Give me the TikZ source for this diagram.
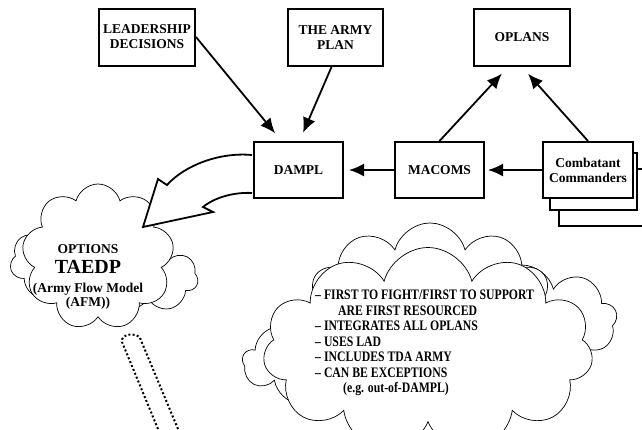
\documentclass[tikz,border=0pt]{standalone}
\usepackage{fontspec}
\setmainfont{Liberation Serif}
\newfontfamily\narrowserif[FakeStretch=0.81]{Liberation Serif}
\usetikzlibrary{arrows.meta,positioning,shapes.symbols}
\tikzset{
  planbox/.style={
    draw=black,
    fill=white,
    line width=2pt,
    minimum width=96pt,
    minimum height=57pt,
    align=center,
    inner sep=2pt,
    font=\bfseries\fontsize{13.5}{15}\selectfont
  },
  cloudy/.style={
    cloud,
    cloud puffs=9,
    cloud ignores aspect,
    draw=black,
    fill=white,
    line width=0.7pt
  },
  arrow/.style={
    -{Latex[length=15pt,width=13pt]},
    line width=1.8pt,
    draw=black
  },
  dotpole/.style={
    line width=2pt,
    dash pattern=on 2pt off 2.2pt
  }
}

\begin{document}
\begin{tikzpicture}[x=1pt,y=-1pt]
\useasboundingbox (0,0) rectangle (642,429);
% big cloud, back to front
\node[cloudy, minimum width=190pt, minimum height=110pt] (cloudR) at (522,320) {};
\node[cloudy, minimum width=175pt, minimum height=90pt] (cloudL) at (330,362) {};
\node[cloudy, cloud puffs=10, minimum width=240pt, minimum height=150pt] (cloudT) at (430,298) {};
\node[cloudy, cloud puffs=11, minimum width=330pt, minimum height=205pt] (cloudF) at (428,350) {};
\node[anchor=north west, inner sep=0pt, align=left,
  font=\narrowserif\bfseries\fontsize{14.5}{15.5}\selectfont] (dampltext) at (315,290)
  {–~FIRST TO FIGHT/FIRST TO SUPPORT\\
   \hspace*{23pt}ARE FIRST RESOURCED\\
   –~INTEGRATES ALL OPLANS\\
   –~USES LAD\\
   –~INCLUDES TDA ARMY\\
   –~CAN BE EXCEPTIONS\\
   \hspace*{28pt}(e.g. out-of-DAMPL)};
% options cloud
\node[cloudy, cloud puffs=7, minimum width=100pt, minimum height=78pt] (optL) at (60,262) {};
\node[cloudy, cloud puffs=7, minimum width=100pt, minimum height=68pt] (optR) at (148,278) {};
\node[cloudy, minimum width=152pt, minimum height=146pt] (optF) at (98,257) {};
\node[align=center, font=\bfseries\fontsize{13.5}{15}\selectfont] (opttext) at (88,277)
  {OPTIONS\\[5pt]{\fontsize{20}{20}\selectfont TAEDP}\\[4pt](Army Flow Model\\[-1pt](AFM))};
\draw[dotpole] (158,429) -- (122,342) .. controls (120,334) and (136,332) .. (140,338) -- (178,429);

% boxes
\node[planbox] (lead) at (147,37) {LEADERSHIP\\DECISIONS};
\node[planbox, minimum width=95pt] (army) at (335.5,37.5) {THE ARMY\\PLAN};
\node[planbox] (oplans) at (522,37.5) {OPLANS};
\node[planbox, minimum width=89pt, minimum height=56pt] (dampl) at (298.5,170) {DAMPL};
\node[planbox, minimum width=89pt, minimum height=56pt, right=50pt of dampl] (macoms) {MACOMS};
\node[planbox, minimum width=90pt] (comb3) at (604,197.5) {};
\node[planbox, minimum width=87pt] (comb2) at (593.5,181.5) {};
\node[planbox, minimum width=90pt, minimum height=56pt, right=57pt of macoms] (comb) {Combatant\\Commanders};

\draw[arrow, shorten >=10pt] (lead.east) -- ([xshift=-17pt]dampl.north);
\draw[arrow, shorten >=9pt] ([xshift=-4pt]army.south) -- ([xshift=1pt]dampl.north);
\draw[arrow, shorten >=9pt] (macoms.north) -- ([xshift=-14pt]oplans.south);
\draw[arrow, shorten >=9pt] (comb.north) -- (oplans.south);
\draw[arrow, shorten >=5pt] (macoms.west) -- (dampl.east);
\draw[arrow, shorten >=3pt] (comb.west) -- (macoms.east);

% wide arrow into the options cloud
\filldraw[line width=1.8pt, fill=white, line join=miter]
  ([xshift=-1pt,yshift=15pt]dampl.west) .. controls (220,152) and (185,165) .. (167,185)
  -- (158,179) -- (143,227) -- (213,212) -- (203,207)
  .. controls (215,197) and (235,192) .. ([xshift=-1pt,yshift=-23pt]dampl.west);
\end{tikzpicture}
\end{document}
